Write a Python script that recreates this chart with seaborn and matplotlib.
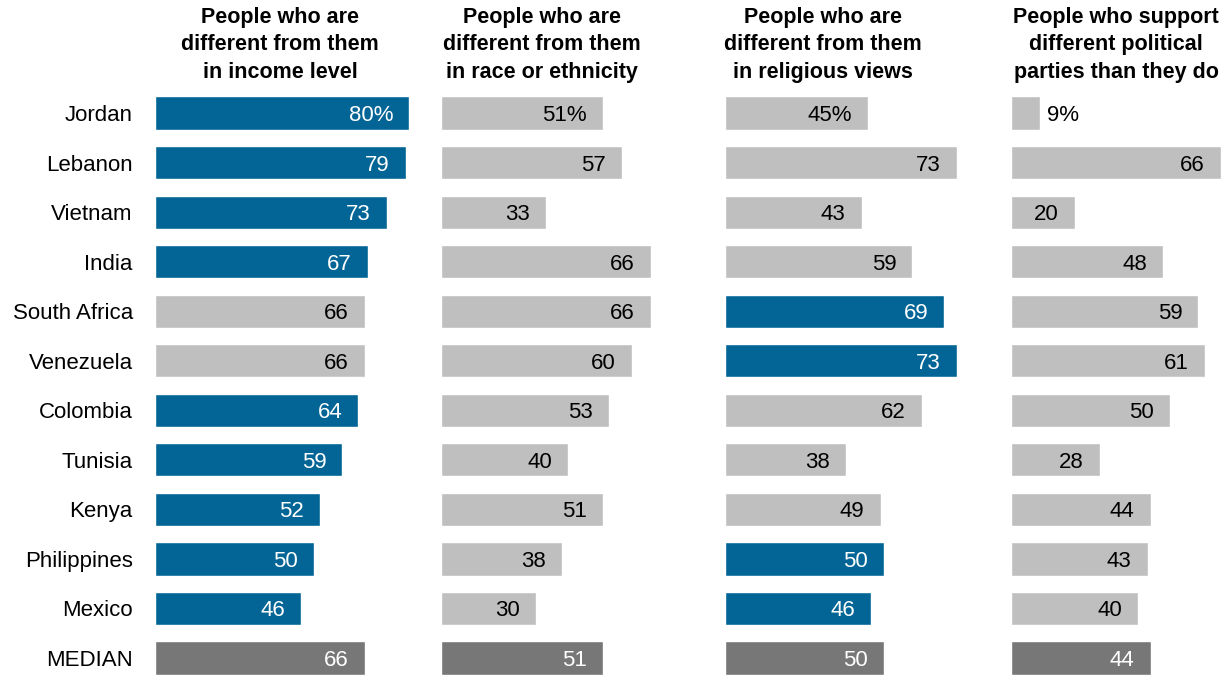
import matplotlib
matplotlib.use("Agg")
import matplotlib.pyplot as plt
import seaborn as sns

# -------------------------------
# Data
# -------------------------------
countries = ["Jordan", "Lebanon", "Vietnam", "India", "South Africa", "Venezuela",
             "Colombia", "Tunisia", "Kenya", "Philippines", "Mexico", "MEDIAN"]

titles = ["People who are\ndifferent from them\nin income level",
          "People who are\ndifferent from them\nin race or ethnicity",
          "People who are\ndifferent from them\nin religious views",
          "People who support\ndifferent political\nparties than they do"]

income = [80, 79, 73, 67, 66, 66, 64, 59, 52, 50, 46, 66]
race = [51, 57, 33, 66, 66, 60, 53, 40, 51, 38, 30, 51]
religion = [45, 73, 43, 59, 69, 73, 62, 38, 49, 50, 46, 50]
politics = [9, 66, 20, 48, 59, 61, 50, 28, 44, 43, 40, 44]

# countries drawn in blue per panel
hl_income = ["Jordan", "Lebanon", "Vietnam", "India", "Colombia", "Tunisia",
             "Kenya", "Philippines", "Mexico"]
hl_race = []
hl_religion = ["South Africa", "Venezuela", "Philippines", "Mexico"]
hl_politics = []

panels = [(income, hl_income), (race, hl_race), (religion, hl_religion), (politics, hl_politics)]

# -------------------------------
# Style
# -------------------------------
BLUE = "#036596"
LIGHT = "#bfbfbf"
DARK = "#777777"

sns.set_style("white")
plt.rcParams["font.family"] = ["Liberation Sans", "DejaVu Sans"]
plt.rcParams["text.color"] = "black"
plt.rcParams["ytick.color"] = "black"

W, H = 1228, 675
fig = plt.figure(figsize=(W / 100, H / 100), dpi=100)

lefts = [155, 441, 725, 1011]
title_x = [280, 542, 823, 1116]
ax_w = 254  # px for 0..80
top_px = 88.25
ax_h = H - top_px

for i, ((vals, hl), left) in enumerate(zip(panels, lefts)):
    ax = fig.add_axes([left / W, 0, ax_w / W, ax_h / H])
    colors = []
    for c in countries:
        if c == "MEDIAN":
            colors.append(DARK)
        elif c in hl:
            colors.append(BLUE)
        else:
            colors.append(LIGHT)
    sns.barplot(x=vals, y=countries, hue=countries, palette=colors, legend=False,
                width=0.67, saturation=1, ax=ax)
    ax.set_xlim(0, 80)
    ax.set_ylim(11.343, -0.5)
    sns.despine(ax=ax, left=True, bottom=True)
    ax.set_xticks([])
    ax.set_xlabel("")
    ax.set_ylabel("")
    if i == 0:
        ax.tick_params(axis="y", length=0, pad=16, labelsize=16, labelcolor="black")
    else:
        ax.set_yticks([])

    for j, (c, v) in enumerate(zip(countries, vals)):
        label = f"{v}%" if j == 0 else str(v)
        col = colors[j]
        txt_color = "white" if col in (BLUE, DARK) else "black"
        if v < 15:
            ax.annotate(label, (v, j), xytext=(5, 0), textcoords="offset points",
                        ha="left", va="center_baseline", fontsize=16, color="black")
        else:
            ax.annotate(label, (v, j), xytext=(-11.5, 0), textcoords="offset points",
                        ha="right", va="center_baseline", fontsize=16, color=txt_color)

    fig.text(title_x[i] / W, 1 - 83 / H, titles[i], ha="center", va="bottom",
             fontsize=15.5, fontweight="bold", linespacing=1.42, color="black")

fig.savefig("out.png", dpi=100)
